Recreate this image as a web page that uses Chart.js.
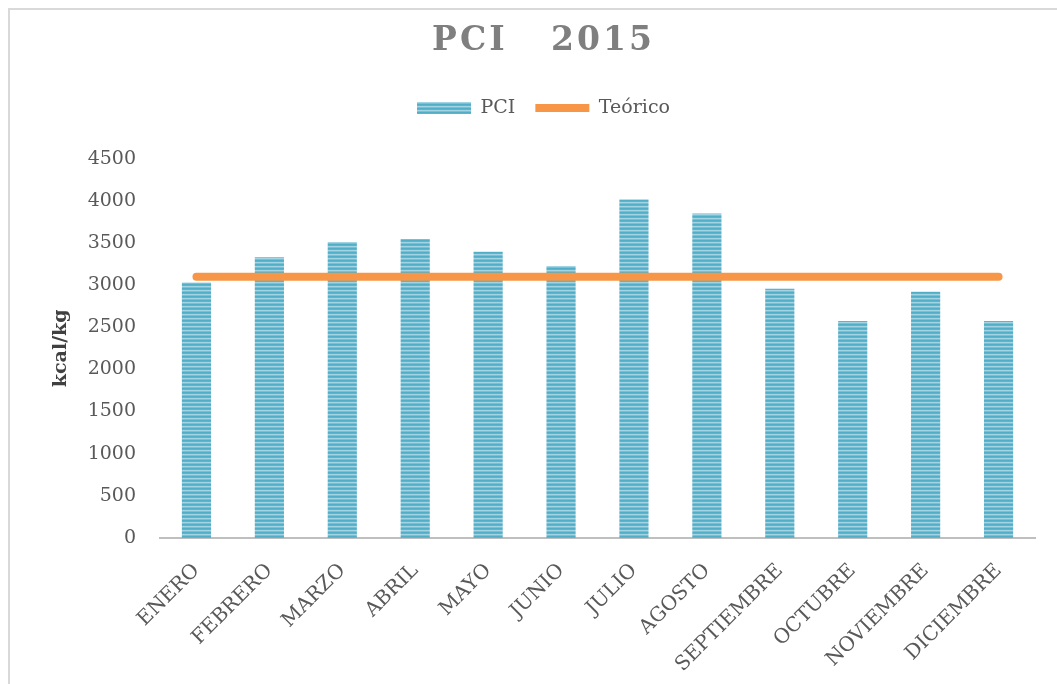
<!DOCTYPE html>
<html>
<head>
<meta charset="utf-8">
<script src="https://cdn.jsdelivr.net/npm/chart.js@4"></script>
<style>
  html, body { margin: 0; padding: 0; background: #fff; overflow: hidden; }
  #wrap { position: relative; width: 1057px; height: 684px; }
  #frame { position: absolute; left: 8px; top: 8px; width: 1100px; height: 700px;
           border-left: 2px solid #D9D9D9; border-top: 2px solid #D9D9D9; }
  #chart { position: absolute; left: 0; top: 0; }
</style>
</head>
<body>
<div id="wrap">
  <div id="frame"></div>
  <canvas id="chart" width="1057" height="684"></canvas>
</div>
<script>
var months = ['ENERO', 'FEBRERO', 'MARZO', 'ABRIL', 'MAYO', 'JUNIO', 'JULIO',
              'AGOSTO', 'SEPTIEMBRE', 'OCTUBRE', 'NOVIEMBRE', 'DICIEMBRE'];
var pci_values = [3030, 3330, 3510, 3545, 3395, 3225, 4015, 3850, 2955, 2575, 2920, 2575];
var teorico_values = [3100, 3100, 3100, 3100, 3100, 3100, 3100, 3100, 3100, 3100, 3100, 3100];
var y_ticks = [0, 500, 1000, 1500, 2000, 2500, 3000, 3500, 4000, 4500];

var serif = "'DejaVu Serif', serif";

// horizontal stripes like the excel fill
function stripe_pattern()
{
    var c = document.createElement('canvas');
    c.width = 4;
    c.height = 4;
    var x = c.getContext('2d');
    var rows = ['#52ADC7', '#5FB4CC', '#A3D4E3', '#79C0D4'];
    rows.forEach(function (col, i) {
        x.fillStyle = col;
        x.fillRect(0, i, 4, 1);
    });
    return x.createPattern(c, 'repeat');
}

var spaced_title = {
    id: 'spaced_title',
    beforeDraw: function (chart) {
        var tb = chart.titleBlock;
        if (!tb || tb._spaced) return;
        var orig = tb.draw.bind(tb);
        tb.draw = function () {
            chart.ctx.letterSpacing = '3px';
            orig();
            chart.ctx.letterSpacing = '0px';
        };
        tb._spaced = true;
    }
};

var stripes = stripe_pattern();

var chart = new Chart(document.getElementById('chart'), {
    data: {
        labels: months,
        datasets: [
            {
                type: 'bar',
                label: 'PCI',
                data: pci_values,
                backgroundColor: stripes,
                borderWidth: 0,
                barPercentage: 0.4,
                categoryPercentage: 1,
                order: 2
            },
            {
                type: 'line',
                label: 'Teórico',
                data: teorico_values,
                borderColor: '#F79646',
                backgroundColor: '#F79646',
                borderWidth: 8,
                borderCapStyle: 'round',
                pointRadius: 0,
                pointStyle: 'line',
                order: 1
            }
        ]
    },
    options: {
        responsive: false,
        animation: false,
        layout: { padding: { top: 0, left: 52, right: 22, bottom: 0 } },
        plugins: {
            title: {
                display: true,
                text: 'PCI   2015',
                color: '#7F7F7F',
                font: { family: serif, size: 33, weight: 'bold', lineHeight: 1.2 },
                padding: { top: 22, bottom: 17 }
            },
            subtitle: {
                display: true,
                text: '',
                weight: 500,
                font: { size: 10, lineHeight: 1.2 },
                padding: { top: 0, bottom: 19 }
            },
            legend: {
                display: true,
                labels: {
                    color: '#595959',
                    font: { family: serif, size: 19 },
                    usePointStyle: true,
                    pointStyleWidth: 54,
                    boxHeight: 12,
                    padding: 20,
                    sort: function (a, b) { return a.datasetIndex - b.datasetIndex; },
                    generateLabels: function (c) {
                        var items = Chart.defaults.plugins.legend.labels.generateLabels(c);
                        items.forEach(function (it) {
                            it.pointStyle = it.datasetIndex === 0 ? 'rect' : 'line';
                        });
                        return items;
                    }
                }
            },
            tooltip: { enabled: false }
        },
        scales: {
            x: {
                grid: { display: false, drawTicks: false },
                border: { display: true, color: '#BFBFBF', width: 2 },
                ticks: {
                    color: '#595959',
                    font: { family: serif, size: 20 },
                    maxRotation: 45,
                    minRotation: 45,
                    padding: 21
                },
                afterFit: function (s) { s.height = 146; }
            },
            y: {
                min: 0,
                max: 4500,
                grid: { display: false, drawTicks: false },
                border: { display: false },
                afterBuildTicks: function (s) {
                    s.ticks = y_ticks.map(function (v) { return { value: v }; });
                },
                ticks: {
                    color: '#595959',
                    font: { family: serif, size: 19 },
                    padding: 24,
                    callback: function (v) { return String(v); }
                },
                title: {
                    display: true,
                    text: 'kcal/kg',
                    color: '#404040',
                    font: { family: serif, size: 19, weight: 'bold', lineHeight: 1 },
                    padding: { top: 0, bottom: 0 }
                },
                afterFit: function (s) { s.width = 108; }
            }
        }
    },
    plugins: [spaced_title]
});
chart.draw();
</script>
</body>
</html>
